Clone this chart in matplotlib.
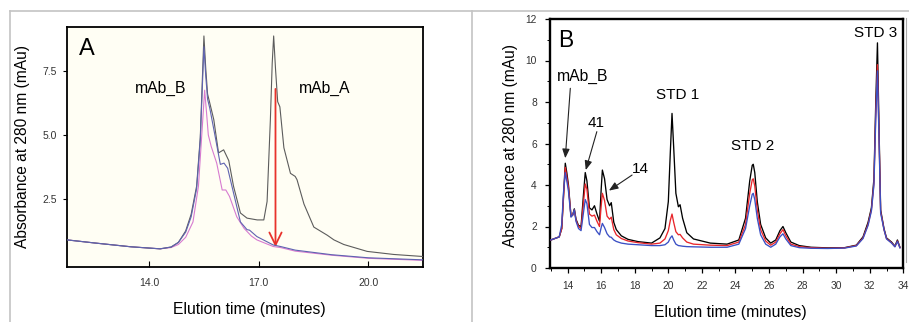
import matplotlib
matplotlib.use("Agg")
import matplotlib.pyplot as plt
from matplotlib.lines import Line2D
from matplotlib.ticker import MultipleLocator

plt.rcParams['font.family'] = ['Liberation Sans', 'DejaVu Sans']

# ---------------- Panel A data ----------------
a_gray_t = [11.75, 12.5, 13.5, 14.3, 14.6, 14.8, 15.0, 15.15, 15.3, 15.4, 15.46, 15.5, 15.55, 15.6,
            15.66, 15.77, 15.9, 16.04, 16.18, 16.31, 16.5, 16.68, 16.96, 17.14, 17.23, 17.32, 17.37,
            17.41, 17.46, 17.52, 17.58, 17.69, 17.87, 18.0, 18.05, 18.24, 18.51, 18.88, 19.06, 19.33,
            19.97, 20.7, 21.5]
a_gray_v = [0.9, 0.78, 0.63, 0.55, 0.62, 0.8, 1.25, 1.9, 3.0, 4.9, 7.3, 8.87, 7.6, 6.6,
            6.25, 5.6, 4.3, 4.42, 4.0, 3.0, 1.95, 1.75, 1.68, 1.68, 2.4, 5.6, 7.8,
            8.87, 7.6, 6.3, 6.1, 4.5, 3.5, 3.38, 3.25, 2.3, 1.4, 1.08, 0.9, 0.72,
            0.45, 0.33, 0.25]

a_blue_t = [11.75, 12.5, 13.5, 14.3, 14.6, 14.8, 15.0, 15.15, 15.3, 15.4, 15.46, 15.5, 15.55, 15.6,
            15.66, 15.8, 15.95, 16.05, 16.15, 16.3, 16.5, 16.68, 16.75, 16.95, 17.4, 17.6, 18.0, 19.0,
            20.0, 21.5]
a_blue_v = [0.9, 0.78, 0.63, 0.55, 0.62, 0.8, 1.2, 1.8, 2.9, 4.8, 7.0, 8.45, 7.3, 6.4,
            6.05, 5.0, 3.85, 3.9, 3.7, 2.8, 1.6, 1.3, 1.28, 1.03, 0.7, 0.64, 0.5, 0.32,
            0.2, 0.12]

a_pink_t = [11.75, 12.5, 13.5, 14.3, 14.6, 14.8, 15.0, 15.2, 15.35, 15.45, 15.52, 15.57, 15.62, 15.7,
            15.85, 16.0, 16.1, 16.2, 16.4, 16.6, 16.8, 16.95, 17.4, 17.6, 18.0, 19.0, 20.0, 21.5]
a_pink_v = [0.9, 0.78, 0.63, 0.55, 0.6, 0.72, 1.0, 1.6, 3.0, 5.2, 6.75, 5.9, 5.0, 4.55,
            3.9, 2.85, 2.85, 2.6, 1.8, 1.35, 1.05, 0.9, 0.64, 0.6, 0.46, 0.3, 0.18, 0.1]

a_xticks = [14.0, 17.0, 20.0]
a_yticks = [2.5, 5.0, 7.5]

# ---------------- Panel B data ----------------
b_time = [13.0, 13.5, 13.65, 13.75, 13.86, 13.95, 14.05, 14.2, 14.3, 14.4, 14.5, 14.65, 14.8, 14.95,
          15.05, 15.15, 15.3, 15.45, 15.6, 15.75, 15.9, 16.0, 16.07, 16.2, 16.35, 16.5, 16.6, 16.75,
          16.9, 17.2, 17.6, 18.2, 19.0, 19.5, 19.8, 20.0, 20.12, 20.22, 20.32, 20.45, 20.6, 20.7,
          20.85, 21.1, 21.5, 22.5, 23.5, 24.2, 24.6, 24.85, 25.0, 25.06, 25.15, 25.3, 25.5, 25.8,
          26.1, 26.4, 26.65, 26.83, 27.0, 27.3, 27.8, 28.5, 29.5, 30.5, 31.2, 31.6, 31.9, 32.1,
          32.25, 32.36, 32.46, 32.56, 32.65, 32.75, 32.85, 33.0, 33.3, 33.5, 33.65, 33.8]
b_black = [1.35, 1.5, 1.9, 3.4, 5.05, 4.6, 4.0, 2.5, 2.55, 2.85, 2.35, 2.05, 2.0, 3.6,
           4.6, 4.2, 2.9, 2.8, 3.0, 2.6, 2.25, 3.8, 4.72, 4.3, 3.3, 3.0, 3.15, 2.2,
           1.85, 1.55, 1.38, 1.27, 1.2, 1.45, 1.9, 3.2, 5.6, 7.45, 5.8, 3.6, 2.95, 3.05,
           2.4, 1.7, 1.4, 1.2, 1.15, 1.35, 2.4, 4.2, 4.95, 5.0, 4.6, 3.2, 2.1, 1.45,
           1.2, 1.35, 1.8, 2.0, 1.7, 1.25, 1.08, 1.0, 0.97, 0.98, 1.1, 1.5, 2.2, 2.9,
           4.3, 8.0, 10.85, 6.5, 2.8, 2.35, 1.9, 1.45, 1.25, 1.05, 1.35, 1.0]
b_red = [1.35, 1.5, 1.9, 3.3, 4.85, 4.4, 3.9, 2.5, 2.55, 2.8, 2.3, 2.0, 1.9, 3.2,
         4.05, 3.8, 2.6, 2.5, 2.55, 2.25, 2.0, 3.0, 3.6, 3.25, 2.5, 2.35, 2.45, 1.85,
         1.6, 1.42, 1.3, 1.22, 1.15, 1.2, 1.4, 1.8, 2.3, 2.6, 2.2, 1.75, 1.6, 1.62,
         1.45, 1.25, 1.15, 1.1, 1.08, 1.25, 2.1, 3.6, 4.25, 4.3, 3.95, 2.8, 1.85, 1.3,
         1.1, 1.25, 1.65, 1.85, 1.55, 1.15, 1.03, 0.98, 0.95, 0.97, 1.08, 1.45, 2.1, 2.8,
         4.1, 7.5, 9.8, 6.2, 2.7, 2.3, 1.85, 1.42, 1.22, 1.03, 1.3, 0.98]
b_blue = [1.35, 1.5, 2.1, 3.6, 4.6, 4.2, 3.7, 2.45, 2.55, 2.8, 2.25, 1.9, 1.8, 2.7,
          3.3, 3.1, 2.1, 1.95, 1.95, 1.75, 1.6, 1.95, 2.15, 1.95, 1.65, 1.5, 1.48, 1.35,
          1.28, 1.2, 1.15, 1.12, 1.08, 1.08, 1.12, 1.25, 1.45, 1.55, 1.35, 1.15, 1.08, 1.07,
          1.05, 1.03, 1.02, 1.0, 1.0, 1.15, 1.9, 3.0, 3.55, 3.6, 3.3, 2.4, 1.6, 1.15,
          1.0, 1.15, 1.5, 1.65, 1.4, 1.08, 0.98, 0.95, 0.94, 0.96, 1.06, 1.42, 2.05, 2.75,
          4.0, 7.2, 9.5, 6.0, 2.65, 2.25, 1.85, 1.4, 1.2, 1.02, 1.28, 0.97]

b_xticks = list(range(14, 35, 2))
b_yticks = list(range(0, 13, 2))

W, H = 909, 322
fig = plt.figure(figsize=(W / 100, H / 100), dpi=100)
fig.patch.set_facecolor('white')

# frame lines
frame_c = '#c4c4c4'
fig.add_artist(Line2D([10 / W, 1.0], [1 - 11 / H, 1 - 11 / H], color=frame_c, lw=1.2))
fig.add_artist(Line2D([10 / W, 10 / W], [0, 1 - 11 / H], color=frame_c, lw=1.2))
fig.add_artist(Line2D([472 / W, 472 / W], [0, 1 - 11 / H], color=frame_c, lw=1.2))
fig.add_artist(Line2D([906 / W, 906 / W], [1 - 262 / H, 1 - 18 / H], color='#aaaaaa', lw=0.8))

tick_c = '#333333'

# ---------------- Panel A ----------------
axA = fig.add_axes([67 / W, (H - 267) / H, 356 / W, 240 / H])
axA.set_facecolor('#fffef4')
axA.plot(a_gray_t, a_gray_v, color='#5c5c5c', lw=0.8, zorder=3)
axA.plot(a_blue_t, a_blue_v, color='#5f63b0', lw=0.8, zorder=4)
axA.plot(a_pink_t, a_pink_v, color='#d77bd0', lw=0.8, zorder=2)
axA.set_xlim(11.75, 21.5)
axA.set_ylim(-0.16, 9.22)
axA.set_xticks(a_xticks)
axA.set_xticklabels([f'{v:.1f}' for v in a_xticks])
axA.set_yticks(a_yticks)
axA.set_yticklabels([f'{v:.1f}' for v in a_yticks])
axA.tick_params(axis='x', direction='in', length=4, width=0.8, labelsize=7.5, colors='black',
                labelcolor=tick_c, pad=8)
axA.tick_params(axis='y', direction='out', length=3, width=0.8, labelsize=7.5, colors='black',
                labelcolor=tick_c, pad=4)
for s in axA.spines.values():
    s.set_linewidth(1.3)
    s.set_color('black')

axA.text(0.034, 0.883, 'A', transform=axA.transAxes, fontsize=17, ha='left', va='baseline')
axA.text(14.32, 6.65, 'mAb_B', fontsize=11.3, ha='center', va='baseline')
axA.text(18.8, 6.65, 'mAb_A', fontsize=11.3, ha='center', va='baseline')
axA.annotate('', xy=(17.46, 0.62), xytext=(17.46, 6.8),
             arrowprops=dict(arrowstyle='->,head_length=0.45,head_width=0.22', color='#e8322c',
                             lw=1.3, mutation_scale=20, shrinkA=0, shrinkB=0))

fig.text(22.5 / W, 1 - 146.7 / H, 'Absorbance at 280 nm (mAu)', rotation=90, fontsize=11.2,
         ha='center', va='center')
fig.text(249 / W, 1 - 309.5 / H, 'Elution time (minutes)', fontsize=11.3, ha='center', va='center')

# ---------------- Panel B ----------------
axB = fig.add_axes([550 / W, (H - 268) / H, 353.3 / W, 249 / H])
axB.plot(b_time, b_black, color='black', lw=0.95, zorder=2)
axB.plot(b_time, b_red, color='#e8262b', lw=0.95, zorder=3)
axB.plot(b_time, b_blue, color='#3a4fc4', lw=0.95, zorder=4)
axB.set_xlim(12.95, 33.8)
axB.set_ylim(0, 12)
axB.set_xticks(b_xticks)
axB.set_yticks(b_yticks)
axB.xaxis.set_minor_locator(MultipleLocator(1))
axB.yaxis.set_minor_locator(MultipleLocator(1))
axB.tick_params(axis='both', which='major', direction='out', length=3.5, width=0.9,
                labelsize=7.4, labelcolor=tick_c, pad=6)
axB.tick_params(axis='both', which='minor', direction='out', length=2, width=0.7)
for s in axB.spines.values():
    s.set_linewidth(1.7)
    s.set_color('black')

axB.text(13.41, 10.67, 'B', fontsize=16.5, ha='left', va='baseline')
axB.text(14.89, 9.01, 'mAb_B', fontsize=11.3, ha='center', va='baseline')
axB.text(15.69, 6.81, '41', fontsize=11, ha='center', va='baseline')
axB.text(18.33, 4.56, '14', fontsize=11, ha='center', va='baseline')
axB.text(20.58, 8.13, 'STD 1', fontsize=11, ha='center', va='baseline')
axB.text(25.02, 5.69, 'STD 2', fontsize=11, ha='center', va='baseline')
axB.text(32.36, 11.12, 'STD 3', fontsize=11, ha='center', va='baseline')

arrow_kw = dict(arrowstyle='-|>,head_length=0.55,head_width=0.22', color='#222222', lw=0.8,
                mutation_scale=10, shrinkA=0, shrinkB=0)
axB.annotate('', xy=(13.86, 5.29), xytext=(14.16, 8.66), arrowprops=arrow_kw)
axB.annotate('', xy=(15.08, 4.72), xytext=(15.74, 6.57), arrowprops=arrow_kw)
axB.annotate('', xy=(16.46, 3.73), xytext=(17.84, 4.48), arrowprops=arrow_kw)

fig.text(510 / W, 1 - 145.8 / H, 'Absorbance at 280 nm (mAu)', rotation=90, fontsize=11.2,
         ha='center', va='center')
fig.text(730.8 / W, 1 - 312 / H, 'Elution time (minutes)', fontsize=11.3, ha='center', va='center')

fig.savefig('out.png', dpi=100, facecolor='white')
